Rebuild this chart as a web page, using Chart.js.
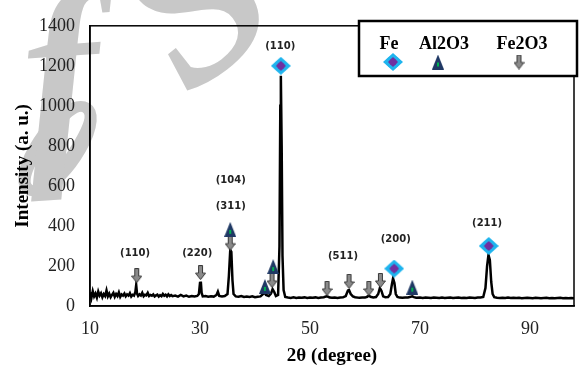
<!DOCTYPE html>
<html>
<head>
<meta charset="utf-8">
<script src="https://cdn.jsdelivr.net/npm/chart.js@4.4.1/dist/chart.umd.min.js"></script>
<style>
html, body { margin: 0; padding: 0; background: #fff; }
</style>
</head>
<body>
<canvas id="myChart" width="579" height="367"></canvas>
<script>
// xrd pattern, values
var twoTheta = [
  10.0, 10.25, 10.5, 10.75, 11.0, 11.25, 11.5, 11.75, 12.0, 12.25, 12.5, 12.75, 13.0, 13.25, 13.5, 13.75,
  14.0, 14.25, 14.5, 14.75, 15.0, 15.25, 15.5, 15.75, 16.0, 16.25, 16.5, 16.75, 17.0, 17.25, 17.5, 17.75,
  18.0, 18.25, 18.4, 18.55, 18.75, 19.0, 19.25, 19.5, 19.75, 20.0, 20.25, 20.5, 20.75, 21.0, 21.25, 21.5,
  21.75, 22.0, 22.25, 22.5, 22.75, 23.0, 23.25, 23.5, 23.75, 24.0, 24.25, 24.5, 24.75, 25.0,
  25.5, 26.0, 26.5, 27.0, 27.5, 28.0, 28.5, 29.0, 29.5, 29.8, 30.0, 30.15, 30.3, 30.5, 31.0, 31.5, 32.0,
  32.5, 33.0, 33.25, 33.5, 34.0, 34.5, 35.0, 35.25, 35.5, 35.7, 35.9, 36.1, 36.5, 37.0, 37.5, 38.0, 38.5,
  39.0, 39.5, 40.0, 40.5, 41.0, 41.4, 41.7, 42.0, 42.5, 42.9, 43.2, 43.5, 43.8, 44.2, 44.45, 44.6, 44.7,
  44.85, 45.0, 45.2, 45.5, 46.0, 46.5, 47.0, 47.5, 48.0, 48.5, 49.0, 49.5, 50.0, 50.5, 51.0, 51.5, 52.0,
  52.5, 53.0, 53.3, 53.6, 54.0, 54.5, 55.0, 55.5, 56.0, 56.5, 56.9, 57.1, 57.4, 57.8, 58.2, 58.6, 59.0,
  59.5, 60.0, 60.4, 60.7, 61.0, 61.5, 62.0, 62.4, 62.7, 63.0, 63.3, 63.7, 64.2, 64.6, 64.9, 65.1, 65.35,
  65.6, 65.9, 66.3, 66.8, 67.3, 67.8, 68.3, 68.6, 68.9, 69.3, 70.0, 70.5, 71.0, 71.5, 72.0, 72.5, 73.0,
  73.5, 74.0, 74.5, 75.0, 75.5, 76.0, 76.5, 77.0, 77.5, 78.0, 78.5, 79.0, 79.5, 80.0, 80.5, 81.0, 81.5,
  81.9, 82.2, 82.45, 82.7, 82.95, 83.2, 83.5, 84.0, 84.5, 85.0, 85.5, 86.0, 86.5, 87.0, 87.5, 88.0, 88.5,
  89.0, 89.5, 90.0, 90.5, 91.0, 91.5, 92.0, 92.5, 93.0, 93.5, 94.0, 94.5, 95.0, 95.5, 96.0, 96.5, 97.0,
  97.5, 98.0
];
var intensity = [
  68, 40, 74, 48, 62, 42, 72, 52, 64, 44, 60, 50, 78, 48, 62, 44,
  56, 66, 46, 60, 50, 68, 46, 58, 52, 62, 48, 58, 52, 64, 47, 56,
  52, 70, 105, 62, 50, 58, 52, 66, 49, 56, 53, 66, 50, 55, 51, 58,
  48, 53, 57, 47, 54, 49, 60, 51, 56, 48, 58, 50, 55, 49,
  52, 47, 55, 48, 52, 46, 50, 47, 50, 60, 115, 122, 65, 48, 50, 46, 49,
  47, 55, 72, 50, 47, 50, 60, 150, 280, 270, 130, 60, 48, 46, 50, 45, 47,
  45, 48, 44, 46, 48, 58, 68, 55, 50, 62, 84, 70, 50, 55, 300, 1000, 1150,
  800, 250, 80, 45, 42, 40, 43, 40, 42, 41, 43, 40, 42, 41, 43, 40, 42,
  44, 48, 46, 42, 41, 42, 40, 42, 43, 50, 78, 80, 60, 48, 44, 42, 41,
  43, 42, 46, 52, 46, 43, 45, 60, 90, 75, 48, 44, 45, 60, 110, 138, 115,
  60, 45, 42, 41, 42, 43, 46, 48, 44, 41, 42, 40, 42, 41, 40, 42, 41,
  40, 42, 40, 41, 42, 40, 41, 42, 40, 41, 40, 42, 41, 40, 42, 42, 45,
  90, 200, 255, 230, 120, 60, 44, 41, 40, 41, 40, 42, 40, 41, 40, 41, 39,
  40, 41, 40, 39, 41, 40, 39, 40, 41, 39, 40, 39, 40, 41, 39, 40, 39,
  40, 39
];

// phase markers
var feX = [44.7, 65.3, 82.5];
var feY = [1200, 187, 300];
var alX = [35.5, 41.8, 43.3, 68.6];
var alY = [383, 98, 197, 94];
var fe2o3X = [18.5, 30.1, 35.5, 43.1, 53.1, 57.1, 60.7, 62.8];
var fe2o3Y = [152, 167, 314, 128, 88, 123, 88, 128];

// hkl labels
var hklText = ['(110)', '(220)', '(104)', '(311)', '(110)', '(511)', '(200)', '(211)'];
var hklX = [18.2, 29.5, 35.6, 35.6, 44.6, 56.0, 65.6, 82.2];
var hklY = [265, 265, 628, 496, 1297, 250, 334, 412];

var xTicks = [10, 30, 50, 70, 90];
var legendNames = ['Fe', 'Al2O3', 'Fe2O3'];

function toPts(xs, ys) {
    return xs.map(function(x, i) { return {x: x, y: ys[i]}; });
}

// marker pictures
function feIcon() {
    var c = document.createElement('canvas'); c.width = 20; c.height = 18;
    var g = c.getContext('2d');
    g.fillStyle = '#1fb4ee';
    g.beginPath(); g.moveTo(10, 0); g.lineTo(20, 9); g.lineTo(10, 18); g.lineTo(0, 9); g.closePath(); g.fill();
    g.beginPath(); g.arc(10, 9, 6.5, 0, Math.PI * 2); g.fill();
    g.fillStyle = '#7030a0';
    g.beginPath(); g.moveTo(10, 4); g.lineTo(15, 9); g.lineTo(10, 14); g.lineTo(5, 9); g.closePath(); g.fill();
    g.beginPath(); g.arc(10, 9, 3.5, 0, Math.PI * 2); g.fill();
    return c;
}
function alIcon() {
    var c = document.createElement('canvas'); c.width = 12; c.height = 15;
    var g = c.getContext('2d');
    g.fillStyle = '#1f3864';
    g.beginPath(); g.moveTo(6, 0); g.lineTo(12, 15); g.lineTo(0, 15); g.closePath(); g.fill();
    g.fillStyle = '#00b050';
    g.fillRect(5, 8, 2, 4);
    return c;
}
function arrowIcon() {
    var c = document.createElement('canvas'); c.width = 11; c.height = 15;
    var g = c.getContext('2d');
    g.fillStyle = '#8a8a8a'; g.strokeStyle = '#3a3a3a'; g.lineWidth = 1;
    g.beginPath();
    g.moveTo(3.5, 0.5); g.lineTo(7.5, 0.5); g.lineTo(7.5, 8); g.lineTo(10.5, 8);
    g.lineTo(5.5, 14.5); g.lineTo(0.5, 8); g.lineTo(3.5, 8); g.closePath();
    g.fill(); g.stroke();
    return c;
}
var icons = [feIcon(), alIcon(), arrowIcon()];

// grey watermark letters behind the chart
var watermark = {
    id: 'watermark',
    beforeDraw: function(chart) {
        var ctx = chart.ctx;
        ctx.save();
        ctx.fillStyle = '#c8c8c8';
        ctx.font = 'italic bold 230px "Liberation Serif"';
        ctx.textAlign = 'center';
        // o
        ctx.save();
        ctx.translate(58, 150);
        ctx.rotate(30 * Math.PI / 180);
        ctx.scale(0.5, 1);
        ctx.fillText('o', 0, 52);
        ctx.restore();
        // f
        ctx.save();
        ctx.translate(66, 150);
        ctx.rotate(-4 * Math.PI / 180);
        ctx.fillText('f', 0, 0);
        ctx.restore();
        // S
        ctx.save();
        ctx.translate(238, 58);
        ctx.rotate(-38 * Math.PI / 180);
        ctx.fillText('S', 0, 0);
        ctx.restore();
        ctx.restore();
    }
};

var frameAndLabels = {
    id: 'frameAndLabels',
    afterDatasetsDraw: function(chart) {
        var ctx = chart.ctx, a = chart.chartArea;
        var xs = chart.scales.x, ys = chart.scales.y;
        ctx.save();
        ctx.strokeStyle = '#000'; ctx.lineWidth = 1.5;
        ctx.strokeRect(a.left, a.top, a.right - a.left, a.bottom - a.top);
        ctx.fillStyle = '#222';
        ctx.font = 'bold 10px "DejaVu Sans"';
        ctx.textAlign = 'center'; ctx.textBaseline = 'middle';
        for (var i = 0; i < hklText.length; i++) {
            ctx.fillText(hklText[i], xs.getPixelForValue(hklX[i]), ys.getPixelForValue(hklY[i]));
        }
        ctx.restore();
    },
    afterDraw: function(chart) {
        var ctx = chart.ctx;
        ctx.save();
        ctx.fillStyle = '#fff';
        ctx.fillRect(359, 21, 219, 55);
        ctx.strokeStyle = '#000'; ctx.lineWidth = 2.5;
        ctx.strokeRect(359, 21, 218, 55);
        ctx.fillStyle = '#000';
        ctx.font = 'bold 18px "Liberation Serif"';
        ctx.textAlign = 'center'; ctx.textBaseline = 'middle';
        var tx = [389, 444, 522], ix = [393, 438, 519];
        for (var i = 0; i < 3; i++) {
            ctx.fillText(legendNames[i], tx[i], 44);
            ctx.drawImage(icons[i], ix[i] - icons[i].width / 2, 62 - icons[i].height / 2);
        }
        ctx.restore();
    }
};

var ctx = document.getElementById('myChart').getContext('2d');
var chart = new Chart(ctx, {
    type: 'scatter',
    data: {
        datasets: [{
            data: toPts(feX, feY), pointStyle: icons[0], showLine: false
        }, {
            data: toPts(alX, alY), pointStyle: icons[1], showLine: false
        }, {
            data: toPts(fe2o3X, fe2o3Y), pointStyle: icons[2], showLine: false
        }, {
            type: 'line',
            data: toPts(twoTheta, intensity),
            borderColor: '#000',
            borderWidth: 2.5,
            pointRadius: 0,
            tension: 0,
            fill: false
        }]
    },
    options: {
        responsive: false,
        animation: false,
        layout: { padding: { top: 21, right: 1, left: 0, bottom: 0 } },
        plugins: { legend: { display: false }, tooltip: { enabled: false } },
        scales: {
            x: {
                type: 'linear', min: 10, max: 98,
                afterBuildTicks: function(s) { s.ticks = xTicks.map(function(v) { return {value: v}; }); },
                afterFit: function(s) { s.height = 61; },
                grid: { display: false, drawTicks: false },
                border: { color: '#000', width: 1.5 },
                ticks: { padding: 12, maxRotation: 0, color: '#222', font: { family: 'Liberation Serif', size: 18 },
                         callback: function(v) { return String(v); } },
                title: { display: true, text: '2θ (degree)', color: '#000', padding: { top: 0, bottom: 0 },
                         font: { family: 'Liberation Serif', size: 19, weight: 'bold' } }
            },
            y: {
                min: 0, max: 1400,
                afterFit: function(s) { s.width = 90; },
                grid: { display: false, drawTicks: false },
                border: { color: '#000', width: 1.5 },
                ticks: { stepSize: 200, padding: 15, color: '#222', font: { family: 'Liberation Serif', size: 18 },
                         callback: function(v) { return String(v); } },
                title: { display: true, text: 'Intensity (a. u.)', color: '#000', padding: { top: 12, bottom: 0 },
                         font: { family: 'Liberation Serif', size: 19, weight: 'bold' } }
            }
        }
    },
    plugins: [watermark, frameAndLabels]
});
</script>
</body>
</html>
